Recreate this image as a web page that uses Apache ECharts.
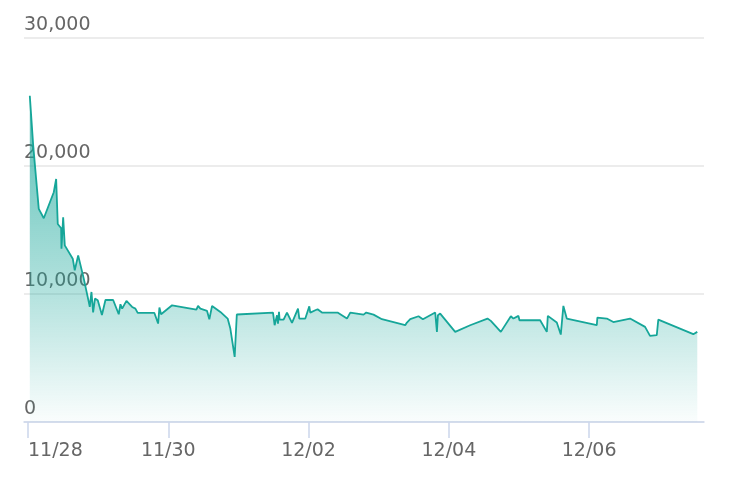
<!DOCTYPE html>
<html>
<head>
<meta charset="utf-8">
<script src="https://cdn.jsdelivr.net/npm/echarts@6/dist/echarts.min.js"></script>
<style>
    html, body { margin: 0; padding: 0; background: #fff; }
    #main { width: 736px; height: 488px; }
</style>
</head>
<body>
<div id="main"></div>
<script>
// time of each sample (local time)
var times = [
    '2023-11-28 00:37', '2023-11-28 01:47', '2023-11-28 03:41', '2023-11-28 05:24', '2023-11-28 08:49',
    '2023-11-28 09:38', '2023-11-28 10:11', '2023-11-28 11:21', '2023-11-28 11:27', '2023-11-28 12:02',
    '2023-11-28 12:35', '2023-11-28 15:19', '2023-11-28 16:00', '2023-11-28 17:10', '2023-11-28 19:05',
    '2023-11-28 20:47', '2023-11-28 21:08', '2023-11-28 21:43', '2023-11-28 22:17', '2023-11-28 22:55',
    '2023-11-28 23:52', '2023-11-29 01:18', '2023-11-29 02:30', '2023-11-29 05:08', '2023-11-29 07:03',
    '2023-11-29 07:38', '2023-11-29 08:13', '2023-11-29 09:41', '2023-11-29 11:38', '2023-11-29 12:45',
    '2023-11-29 13:32', '2023-11-29 19:15', '2023-11-29 20:31', '2023-11-29 20:58', '2023-11-29 21:32',
    '2023-11-30 01:18', '2023-11-30 09:37', '2023-11-30 10:11', '2023-11-30 10:59', '2023-11-30 13:16',
    '2023-11-30 14:03', '2023-11-30 14:59', '2023-11-30 17:49', '2023-11-30 20:19', '2023-11-30 21:14',
    '2023-11-30 22:43', '2023-11-30 23:27', '2023-12-01 11:50', '2023-12-01 12:23', '2023-12-01 13:12',
    '2023-12-01 13:32', '2023-12-01 13:53', '2023-12-01 14:05', '2023-12-01 15:27', '2023-12-01 16:37',
    '2023-12-01 18:20', '2023-12-01 20:23', '2023-12-01 20:50', '2023-12-01 22:53', '2023-12-02 00:15',
    '2023-12-02 00:35', '2023-12-02 02:18', '2023-12-02 03:05', '2023-12-02 04:35', '2023-12-02 09:55',
    '2023-12-02 13:08', '2023-12-02 14:16', '2023-12-02 18:49', '2023-12-02 19:44', '2023-12-02 22:14',
    '2023-12-03 01:06', '2023-12-03 09:04', '2023-12-03 09:39', '2023-12-03 10:47', '2023-12-03 13:37',
    '2023-12-03 15:07', '2023-12-03 19:20', '2023-12-03 19:55', '2023-12-03 20:15', '2023-12-03 21:02',
    '2023-12-04 02:10', '2023-12-04 07:17', '2023-12-04 13:13', '2023-12-04 14:22', '2023-12-04 17:47',
    '2023-12-04 21:13', '2023-12-04 22:06', '2023-12-04 23:49', '2023-12-05 00:09', '2023-12-05 07:14',
    '2023-12-05 09:31', '2023-12-05 09:52', '2023-12-05 12:56', '2023-12-05 14:18', '2023-12-05 15:11',
    '2023-12-05 16:21', '2023-12-06 02:37', '2023-12-06 02:49', '2023-12-06 06:02', '2023-12-06 08:17',
    '2023-12-06 14:00', '2023-12-06 19:08', '2023-12-06 20:50', '2023-12-06 23:08', '2023-12-06 23:40',
    '2023-12-07 11:38', '2023-12-07 13:00'
];
var values = [
    25490, 21590, 16650, 15920, 17950,
    18990, 15470, 15140, 13530, 16000,
    13800, 12760, 11850, 13020, 11200,
    9380, 8990, 10160, 8560, 9640,
    9510, 8360, 9530, 9530, 8420,
    9200, 8860, 9460, 8990, 8860,
    8520, 8520, 7690, 8940, 8420,
    9120, 8780, 9070, 8860, 8680,
    8030, 9070, 8600, 8080, 7300,
    5090, 8400, 8550, 7560, 8340,
    7690, 8600, 8000, 8000, 8550,
    7740, 8860, 8080, 8080, 9040,
    8550, 8730, 8810, 8550, 8550,
    8080, 8550, 8390, 8550, 8390,
    8030, 7560, 7770, 8030, 8260,
    8030, 8550, 7040, 8340, 8470,
    7040, 7560, 8080, 7900, 7040,
    8260, 8080, 8290, 7950, 7950,
    7040, 8290, 7770, 6830, 9070,
    8080, 7560, 8160, 8080, 7810,
    8080, 7430, 6730, 6780, 8000,
    6860, 7040
];
var xMin = '2023-11-27 22:38';
var xMax = '2023-12-07 15:18';
var xTicks = ['2023-11-28 00:00', '2023-11-30 00:00', '2023-12-02 00:00', '2023-12-04 00:00', '2023-12-06 00:00'];
var yTicks = [0, 10000, 20000, 30000];

function toTime(s) {
    var p = s.split(/[- :]/);
    return new Date(+p[0], +p[1] - 1, +p[2], +p[3], +p[4]).getTime();
}
function pad(n) { return (n < 10 ? '0' : '') + n; }

var seriesData = [];
for (var i = 0; i < times.length; i++) {
    seriesData.push([toTime(times[i]), values[i]]);
}
var tickValues = xTicks.map(toTime);

var lineColor = '#16a699';
var myChart = echarts.init(document.getElementById('main'));
myChart.setOption({
    animation: false,
    grid: {
        left: 24,
        right: 32,
        top: 38,
        bottom: 66,
        containLabel: false
    },
    xAxis: {
        type: 'value',
        min: toTime(xMin),
        max: toTime(xMax),
        splitLine: { show: false },
        axisLine: { lineStyle: { color: '#ccd6eb', width: 1.5 } },
        axisTick: {
            show: true,
            length: 16,
            customValues: tickValues,
            lineStyle: { color: '#ccd6eb', width: 1.5 }
        },
        axisLabel: {
            color: '#666',
            fontSize: 19,
            fontFamily: 'DejaVu Sans',
            margin: 20,
            customValues: tickValues,
            alignMinLabel: 'left',
            formatter: function (val) {
                var d = new Date(val);
                return pad(d.getMonth() + 1) + '/' + pad(d.getDate());
            }
        }
    },
    yAxis: {
        type: 'value',
        min: yTicks[0],
        max: yTicks[yTicks.length - 1],
        interval: yTicks[1] - yTicks[0],
        axisLine: { show: false },
        axisTick: { show: false },
        splitLine: { lineStyle: { color: '#e6e6e6', width: 1.5 } },
        axisLabel: {
            inside: true,
            verticalAlign: 'bottom',
            margin: 0,
            padding: [0, 0, 3, 0],
            color: '#666',
            fontSize: 19,
            fontFamily: 'DejaVu Sans',
            formatter: function (v) {
                return v.toString().replace(/\B(?=(\d{3})+(?!\d))/g, ',');
            }
        }
    },
    series: [{
        type: 'line',
        data: seriesData,
        symbol: 'none',
        lineStyle: { color: lineColor, width: 1.8 },
        itemStyle: { color: lineColor },
        areaStyle: {
            opacity: 1,
            // gradient spans from the top of the peak down to the x axis
            color: new echarts.graphic.LinearGradient(0, 95, 0, 422, [
                { offset: 0, color: 'rgba(22, 166, 153, 0.72)' },
                { offset: 0.6, color: 'rgba(22, 166, 153, 0.33)' },
                { offset: 1, color: 'rgba(22, 166, 153, 0.02)' }
            ], true)
        }
    }]
});
</script>
</body>
</html>
